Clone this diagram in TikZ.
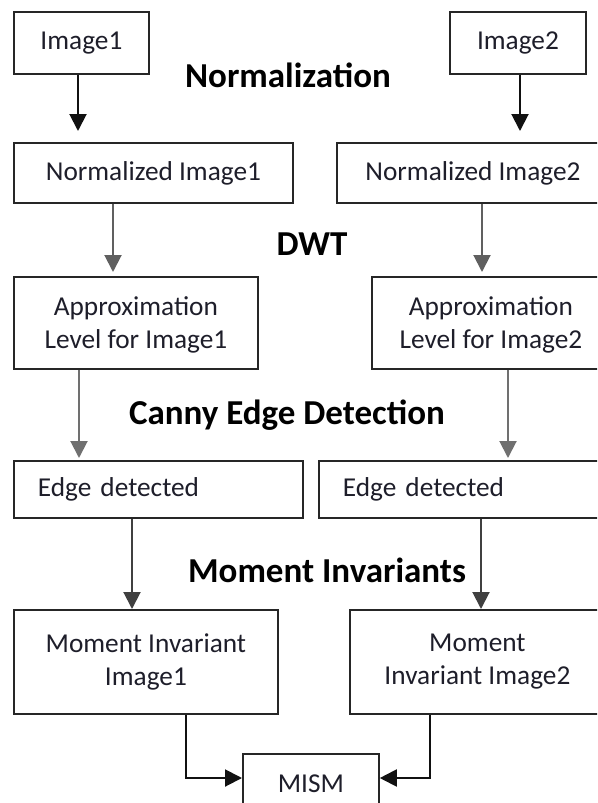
\documentclass[tikz,border=0pt]{standalone}
\usepackage{fontspec}
\setmainfont{Carlito}
\usetikzlibrary{arrows.meta,calc}
\definecolor{boxc}{HTML}{262626}
\definecolor{txtc}{HTML}{1E1E2A}
\definecolor{arrA}{HTML}{111111}
\definecolor{arrB}{HTML}{606060}
\definecolor{arrC}{HTML}{707070}
\definecolor{arrD}{HTML}{404040}
\newcommand\myreg{\fontsize{27.3}{33}\selectfont}
\newcommand\mybold{\fontsize{35}{40}\selectfont\bfseries}
\begin{document}
\begin{tikzpicture}[x=1pt,y=-1pt,
  box/.style={draw=boxc, line width=1.8pt, rectangle, anchor=north west,
    inner sep=0pt, align=center, text=txtc, font=\myreg},
  lbl/.style={font=\mybold, anchor=base, text=black, inner sep=0pt},
  arr/.style={-{Triangle[width=17pt,length=17pt]}, line width=2pt},
]
\useasboundingbox (0,0) rectangle (597,803);
\fill[white] (0,0) rectangle (597,803);
\clip (0,0) rectangle (597,803);

\node[box, minimum width=135pt, minimum height=62pt] (img1) at (13,11) {Image1};
\node[box, minimum width=136pt, minimum height=62pt] (img2) at (449,11) {Image2};
\node[box, minimum width=279pt, minimum height=60pt] (norm1) at (13,142) {Normalized Image1};
\node[box, minimum width=272pt, minimum height=60pt] (norm2) at (336,142) {Normalized Image2};
\node[box, minimum width=244pt, minimum height=92pt, text depth=0pt] (apx1) at (13,276) {Approximation\\Level for Image1};
\node[box, minimum width=238pt, minimum height=92pt, text depth=0pt] (apx2) at (371,276) {Approximation\\Level for Image2};
\node[box, minimum height=57pt, inner xsep=24pt, text width=241pt, align=left] (edge1) at (13,460) {Edge detected};
\node[box, minimum height=57pt, inner xsep=24pt, text width=274pt, align=left] (edge2) at (318,460) {Edge detected};
\node[box, minimum width=264pt, minimum height=104pt] (mom1) at (13,609) {Moment Invariant\\Image1};
\node[box, minimum width=255pt, minimum height=104pt] (mom2) at (349,609) {Moment\\Invariant Image2};
\node[box, minimum width=136pt, minimum height=80pt, text depth=20pt] (mism) at (242,753) {MISM};

\node[lbl] (tnorm) at (288,87) {Normalization};
\node[lbl] (tdwt) at (312,255) {DWT};
\node[lbl] (tcanny) at (287,424) {Canny Edge Detection};
\node[lbl] (tmom) at (327,582) {Moment Invariants};

\draw[arr, draw=arrA, shorten >=11pt] ($(img1.south west)+(65,0)$) -- ($(norm1.north west)+(65,0)$);
\draw[arr, draw=arrA, shorten >=11pt] ($(img2.south west)+(71,0)$) -- ($(norm2.north west)+(184,0)$);
\draw[arr, draw=arrB, shorten >=4pt] ($(norm1.south west)+(100,0)$) -- ($(apx1.north west)+(100,0)$);
\draw[arr, draw=arrB, shorten >=4pt] ($(norm2.south west)+(146,0)$) -- ($(apx2.north west)+(111,0)$);
\draw[arr, draw=arrC, shorten >=2pt] ($(apx1.south west)+(66,0)$) -- ($(edge1.north west)+(66,0)$);
\draw[arr, draw=arrC, shorten >=2pt] ($(apx2.south west)+(137,0)$) -- ($(edge2.north west)+(190,0)$);
\draw[arr, draw=arrD] ($(edge1.south west)+(119,0)$) -- ($(mom1.north west)+(119,0)$);
\draw[arr, draw=arrD] ($(edge2.south west)+(163,0)$) -- ($(mom2.north west)+(132,0)$);
\draw[arr, draw=arrA] ($(mom1.south west)+(173,0)$) |- ($(mism.north west)+(0,25)$);
\draw[arr, draw=arrA] ($(mom2.south west)+(81,0)$) |- ($(mism.north east)+(0,25)$);
\end{tikzpicture}
\end{document}
